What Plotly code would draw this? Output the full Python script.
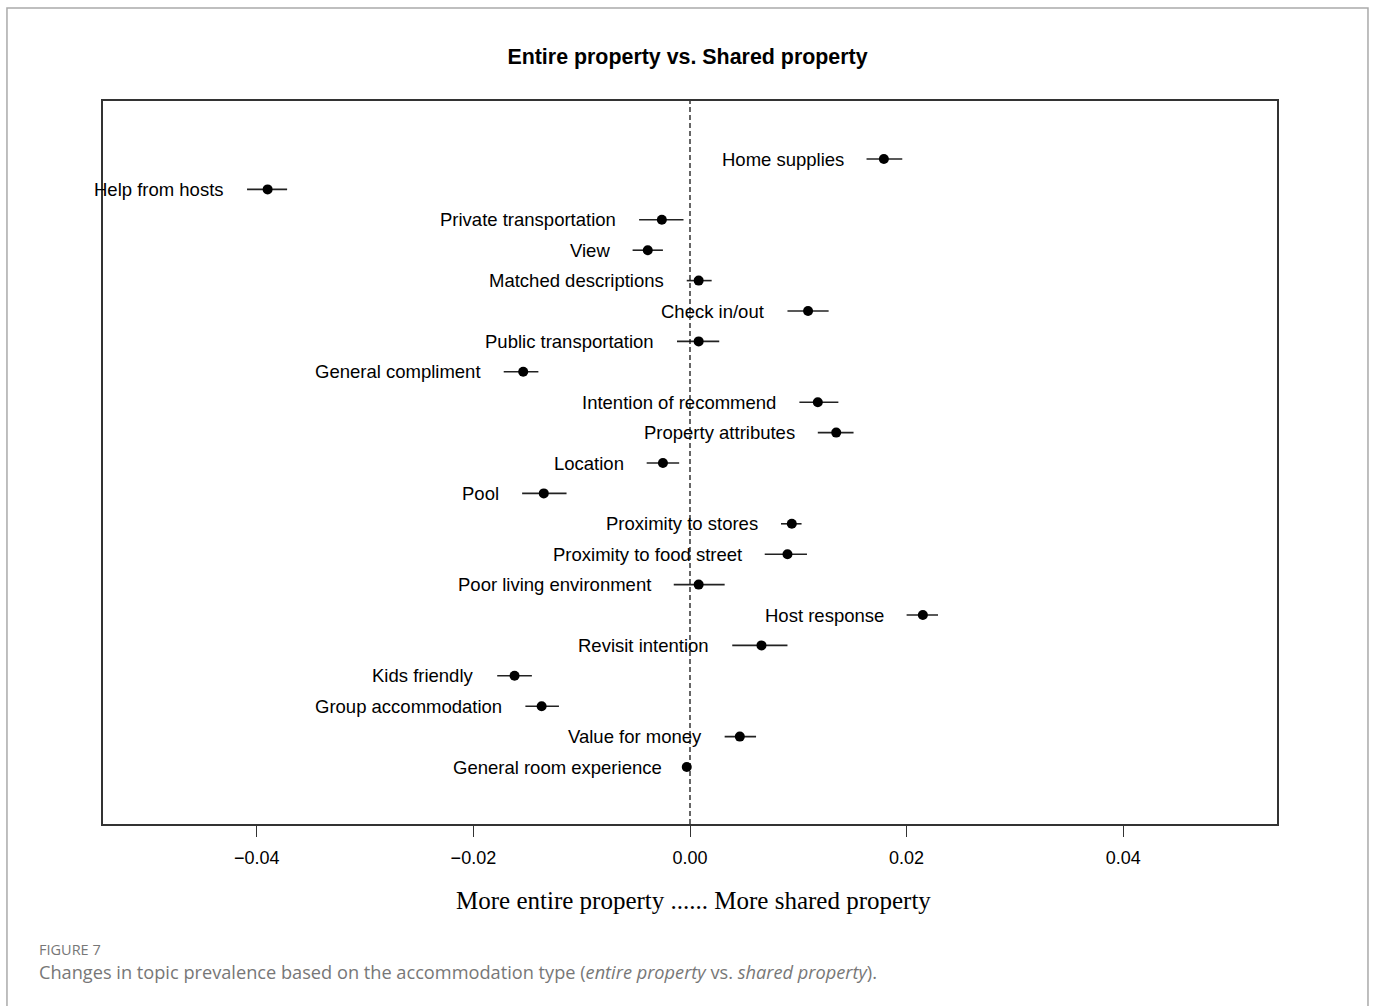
import plotly.graph_objects as go

# Topic-prevalence contrast: entire property vs. shared property
topics = [
    "Home supplies", "Help from hosts", "Private transportation", "View",
    "Matched descriptions", "Check in/out", "Public transportation",
    "General compliment", "Intention of recommend", "Property attributes",
    "Location", "Pool", "Proximity to stores", "Proximity to food street",
    "Poor living environment", "Host response", "Revisit intention",
    "Kids friendly", "Group accommodation", "Value for money",
    "General room experience",
]
estimate = [
    0.0179, -0.0390, -0.0026, -0.0039, 0.0008, 0.0109, 0.0008,
    -0.0154, 0.0118, 0.0135, -0.0025, -0.0135, 0.0094, 0.0090,
    0.0008, 0.0215, 0.0066, -0.0162, -0.0137, 0.0046, -0.0003,
]
ci_lower = [
    0.0163, -0.0409, -0.0047, -0.0053, -0.0003, 0.0090, -0.0012,
    -0.0172, 0.0101, 0.0118, -0.0040, -0.0155, 0.0084, 0.0069,
    -0.0015, 0.0200, 0.0039, -0.0178, -0.0152, 0.0032, -0.0005,
]
ci_upper = [
    0.0196, -0.0372, -0.0006, -0.0025, 0.0020, 0.0128, 0.0027,
    -0.0140, 0.0137, 0.0151, -0.0010, -0.0114, 0.0103, 0.0108,
    0.0032, 0.0229, 0.0090, -0.0146, -0.0121, 0.0061, -0.0001,
]
x_ticks = [-0.04, -0.02, 0.00, 0.02, 0.04]

rows = list(range(len(topics)))
err_plus = [u - e for u, e in zip(ci_upper, estimate)]
err_minus = [e - l for e, l in zip(estimate, ci_lower)]

fig = go.Figure()
fig.add_trace(go.Scatter(
    x=estimate, y=rows, mode="markers",
    marker=dict(color="black", size=10),
    error_x=dict(type="data", symmetric=False, array=err_plus,
                 arrayminus=err_minus, color="#222", thickness=1.6, width=0),
    hovertext=topics, showlegend=False,
))

annotations = []
for name, lo, r in zip(topics, ci_lower, rows):
    annotations.append(dict(
        x=lo, y=r, xref="x", yref="y", text=name, showarrow=False,
        xanchor="right", yanchor="middle", xshift=-21,
        font=dict(family="Liberation Sans, Arial, sans-serif", size=18.5, color="black"),
    ))

# axis caption under the tick labels
annotations.append(dict(
    x=0.5, y=-0.1065, xref="paper", yref="paper",
    text="More entire property ...... More shared property", showarrow=False,
    xanchor="center", yanchor="middle", xshift=3,
    font=dict(family="Liberation Serif, Times New Roman, serif", size=25, color="black"),
))
# figure caption
annotations.append(dict(
    x=-0.0537, y=-0.1729, xref="paper", yref="paper", text="FIGURE 7",
    showarrow=False, xanchor="left", yanchor="middle", xshift=-3,
    font=dict(family="Open Sans, sans-serif", size=14.5, color="#777"),
))
annotations.append(dict(
    x=-0.0537, y=-0.2047, xref="paper", yref="paper",
    text="Changes in topic prevalence based on the accommodation type "
         "(<i>entire property</i> vs. <i>shared property</i>).",
    showarrow=False, xanchor="left", yanchor="middle", xshift=-3,
    font=dict(family="Open Sans, sans-serif", size=18.2, color="#777"),
))

shapes = [
    # reference line at zero
    dict(type="line", xref="x", yref="paper", x0=0, x1=0, y0=0, y1=1,
         line=dict(color="black", width=1.2, dash="5px,3px")),
    # outer frame around the figure panel
    dict(type="rect", xref="paper", yref="paper",
         x0=-0.0818, x1=1.0775, y0=-0.27, y1=1.1286,
         line=dict(color="#aaa", width=1.5), layer="below"),
]

fig.update_layout(
    width=1375, height=1006,
    margin=dict(l=103, r=98, t=101, b=182),
    paper_bgcolor="white", plot_bgcolor="white",
    title=dict(text="<b>Entire property vs. Shared property</b>",
               x=0.5, xanchor="center", y=1 - 57 / 1006, yanchor="middle",
               yref="container",
               font=dict(family="Liberation Sans, Arial, sans-serif", size=21.4, color="black")),
    xaxis=dict(range=[-0.0542, 0.0542], tickvals=x_ticks,
               tickformat=".2f", ticks="outside", ticklen=11, tickwidth=1.3,
               tickcolor="#333", showgrid=False, zeroline=False,
               ticklabelstandoff=6,
               showline=True, linecolor="#333", linewidth=1.6, mirror=True,
               tickfont=dict(family="Liberation Sans, Arial, sans-serif", size=18, color="black")),
    yaxis=dict(range=[21.875, -1.908], showticklabels=False, ticks="",
               showgrid=False, zeroline=False,
               showline=True, linecolor="#333", linewidth=1.6, mirror=True),
    annotations=annotations, shapes=shapes,
)

fig.write_html("out.html")
